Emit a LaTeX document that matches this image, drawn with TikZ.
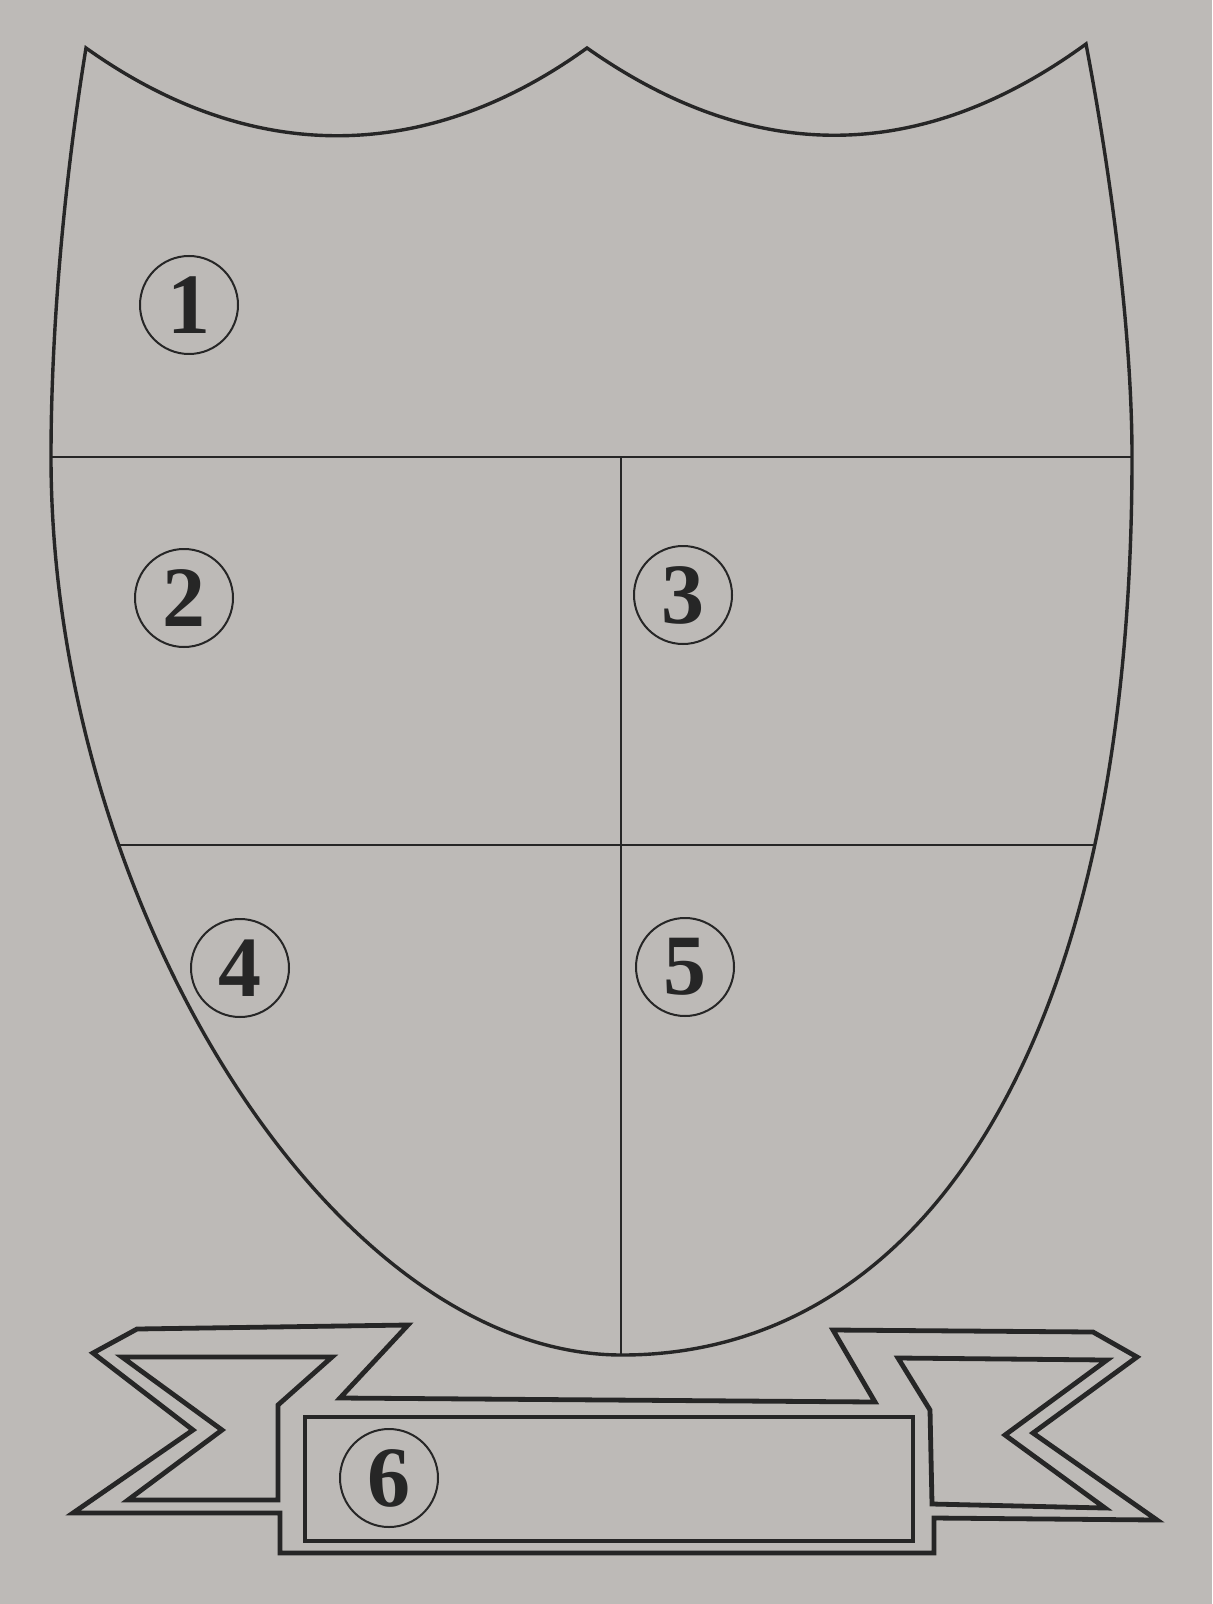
\documentclass[tikz,border=0pt]{standalone}
\usepackage{fontspec}
\setmainfont{Liberation Serif}
\definecolor{paper}{RGB}{189,186,183}
\definecolor{inkc}{RGB}{38,38,38}
\begin{document}
\begin{tikzpicture}[x=0.5pt,y=-0.5pt,
  shieldline/.style={draw=inkc, line width=1.7pt, line join=miter},
  partline/.style={draw=inkc, line width=1.1pt},
  bannerline/.style={draw=inkc, line width=2.4pt, line join=miter},
  num/.style={circle, draw=inkc, line width=1.0pt, minimum size=49pt, inner sep=0pt,
    font=\fontsize{43}{43}\selectfont\bfseries, text=inkc}]
\fill[paper] (0,0) rectangle (1212,1604);
\useasboundingbox (0,0) rectangle (1212,1604);

% shield outline
\path[save path=\shieldp] (86,48) .. controls (250,165) and (425,165) .. (587,48)
  .. controls (753,165) and (920,165) .. (1086,44)
  .. controls (1110,170) and (1132,330) .. (1132,457)
  .. controls (1132,1050) and (920,1355) .. (622,1355)
  .. controls (330,1355) and (51,900) .. (51,457)
  .. controls (51,320) and (66,170) .. (86,48) -- cycle;

\begin{scope}
  \clip[use path=\shieldp];
  \draw[partline] (0,457) -- (1212,457);
  \draw[partline] (0,845) -- (1212,845);
  \draw[partline] (621,457) -- (621,1400);
\end{scope}
\draw[shieldline, use path=\shieldp];

% banner: outer outline
\draw[bannerline] (340,1398) -- (875,1402) -- (833,1330) -- (1093,1332) -- (1137,1357)
  -- (1033,1433) -- (1157,1520) -- (934,1518) -- (934,1553) -- (280,1553)
  -- (280,1513) -- (73,1513) -- (193,1430) -- (93,1353) -- (137,1329)
  -- (408,1325) -- cycle;
% banner: left fold
\draw[bannerline] (122,1357) -- (332,1357) -- (278,1405) -- (278,1500)
  -- (128,1500) -- (222,1430) -- cycle;
% banner: right fold
\draw[bannerline] (898,1358) -- (1107,1360) -- (1005,1435) -- (1105,1508)
  -- (932,1504) -- (930,1410) -- cycle;
% banner: label box
\draw[bannerline] (305,1417) rectangle (913,1541);

% circled numbers
\node[num] (n1) at (189,305) {1};
\node[num] (n2) at (184,598) {2};
\node[num] (n3) at (683,595) {3};
\node[num] (n4) at (240,968) {4};
\node[num] (n5) at (685,967) {5};
\node[num] (n6) at (389,1478) {6};
\end{tikzpicture}
\end{document}
